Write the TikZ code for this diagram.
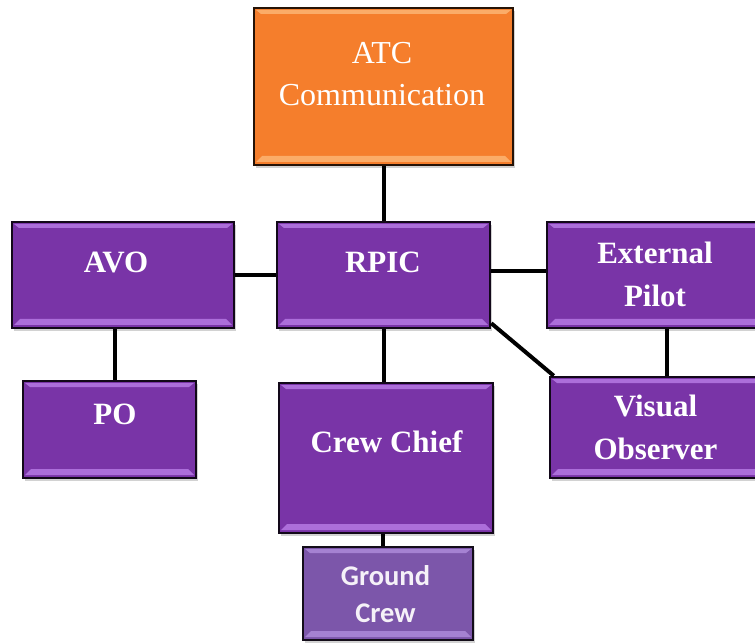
\documentclass[tikz,border=0pt]{standalone}
\usepackage{fontspec}
\setmainfont{Liberation Serif}
\newfontfamily\gcfont{Carlito}
\usetikzlibrary{shadows}
\definecolor{purp}{RGB}{121,52,167}
\definecolor{purphi}{RGB}{172,110,218}
\definecolor{orng}{RGB}{245,126,44}
\definecolor{ornghi}{RGB}{251,172,104}
\definecolor{gcpurp}{RGB}{124,86,170}
\definecolor{gchi}{RGB}{165,130,210}
\tikzset{
  bevel/.style 2 args={fill=#1, draw=black!85!#1, line width=2.5pt, inner sep=0pt,
    drop shadow={shadow xshift=2pt, shadow yshift=-3pt, opacity=0.35},
    path picture={
      \fill[#2] ([shift={(2pt,-2pt)}]path picture bounding box.north west)
        -- ([shift={(-2pt,-2pt)}]path picture bounding box.north east)
        -- ([shift={(-7pt,-6pt)}]path picture bounding box.north east)
        -- ([shift={(7pt,-6pt)}]path picture bounding box.north west) -- cycle;
      \fill[#2] ([shift={(2pt,3pt)}]path picture bounding box.south west)
        -- ([shift={(-2pt,3pt)}]path picture bounding box.south east)
        -- ([shift={(-8pt,9pt)}]path picture bounding box.south east)
        -- ([shift={(8pt,9pt)}]path picture bounding box.south west) -- cycle;
    }},
  pbox/.style={bevel={purp}{purphi}},
  obox/.style={bevel={orng}{ornghi}},
  gbox/.style={bevel={gcpurp}{gchi}},
  ptext/.style={text=white, align=center, inner sep=0pt,
    font=\fontsize{31}{43}\selectfont\bfseries},
  otext/.style={text=white, align=center, inner sep=0pt,
    font=\fontsize{32}{42}\selectfont},
  gtext/.style={text=white!92!gcpurp, align=center, inner sep=0pt,
    font=\fontsize{28.5}{37}\selectfont\gcfont\bfseries},
  link/.style={line width=4pt, black}
}
\begin{document}
\begin{tikzpicture}[x=1pt, y=-1pt]
\useasboundingbox[fill=white] (0,0) rectangle (755,644);
% boxes
\node[obox, minimum width=259pt, minimum height=157pt] (atc) at (383.5,86.5) {};
\node[pbox, minimum width=222pt, minimum height=106pt] (avo) at (123,275) {};
\node[pbox, minimum width=213pt, minimum height=106pt] (rpic) at (383.5,275) {};
\node[pbox, minimum width=242pt, minimum height=106pt] (ext) at (668,275) {};
\node[pbox, minimum width=173pt, minimum height=97pt] (po) at (109.5,429.5) {};
\node[pbox, minimum width=237pt, minimum height=101pt] (vo) at (668.5,427.5) {};
\node[pbox, minimum width=214pt, minimum height=150pt] (crew) at (386,458) {};
\node[gbox, minimum width=170pt, minimum height=93pt] (gc) at (388,593.5) {};
% texts
\node[otext] (atct) at (382,74) {ATC\\Communication};
\node[ptext] (avot) at (116,262) {AVO};
\node[ptext] (rpict) at (383,262) {RPIC};
\node[ptext] (extt) at (655,274) {External\\Pilot};
\node[ptext] (vot) at (655.5,427) {Visual\\Observer};
\node[ptext] (pot) at (115,414) {PO};
\node[ptext] (crewt) at (386.5,442) {Crew Chief};
\node[gtext] (gct) at (385.5,594) {Ground\\Crew};
% connectors
\draw[link] (atc.south) -- (rpic.north);
\draw[link] (avo.east) -- (rpic.west);
\draw[link] ([yshift=4pt]rpic.east) -- ([yshift=4pt]ext.west);
\draw[link] ([xshift=-8pt]avo.south) -- ([xshift=-8pt]avo.south |- po.north);
\draw[link] (rpic.south) -- (rpic.south |- crew.north);
\draw[link] ([xshift=-3pt]crew.south) -- ([xshift=-3pt]crew.south |- gc.north);
\draw[link] ([yshift=6pt]rpic.south east) -- ([xshift=5pt]vo.north west);
\draw[link] ([xshift=-1pt]ext.south) -- ([xshift=-1pt]ext.south |- vo.north);
\end{tikzpicture}
\end{document}
